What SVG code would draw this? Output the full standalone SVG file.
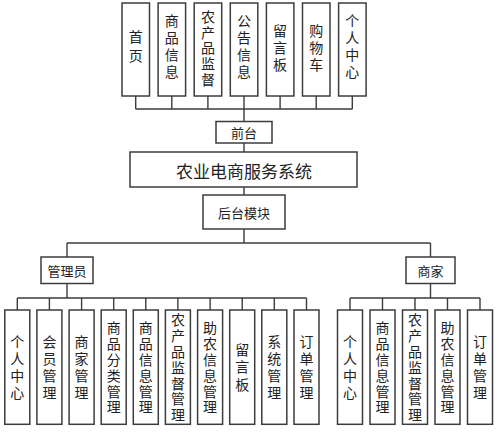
<svg xmlns="http://www.w3.org/2000/svg" width="499" height="436" viewBox="0 0 499 436">
<style>
.b{fill:#fff;stroke:#3c3c3c;stroke-width:1.5}
.t{font-family:"Noto Sans CJK SC","Noto Sans",sans-serif;font-size:14px;fill:#222;text-anchor:middle;dominant-baseline:central}
.v{writing-mode:vertical-rl;text-orientation:upright}
.w{letter-spacing:3px}
.n{letter-spacing:1.8px}
.s{font-size:13px}
.m{font-size:17px}
.c{fill:none;stroke:#3c3c3c;stroke-width:1.4}
</style>
<rect width="499" height="436" fill="#fff"/>
<g id="connectors" class="c">
<path d="M135.7 96V109M171.8 96V109M207.9 96V109M244 96V121.5M280.1 96V109M316.2 96V109M352.3 96V109M135.7 109H352.3"/>
<path d="M244 143V152M244 187V195M244 229V243M67 243H430.5M67 243V257M430.5 243V257"/>
<path d="M67 283.5V298M17.3 298H306.5M17.3 298V310M49.4 298V310M81.6 298V310M113.7 298V310M145.8 298V310M177.9 298V310M210.1 298V310M242.2 298V310M274.3 298V310M306.5 298V310"/>
<path d="M430.5 283.5V298M350 298H480M350 298V310M382.5 298V310M415 298V310M447.5 298V310M480 298V310"/>
</g>
<g id="top-home"><rect class="b" x="122" y="3" width="27.5" height="93"/><text class="t v" style="letter-spacing:5px" x="135.7" y="48.5">首页</text></g>
<g id="top-goods"><rect class="b" x="158.1" y="3" width="27.5" height="93"/><text class="t v w" x="171.8" y="48">商品信息</text></g>
<g id="top-supervise"><rect class="b" x="194.2" y="3" width="27.5" height="93"/><text class="t v n" x="207.9" y="49">农产品监督</text></g>
<g id="top-notice"><rect class="b" x="230.3" y="3" width="27.5" height="93"/><text class="t v w" x="244" y="48">公告信息</text></g>
<g id="top-message"><rect class="b" x="266.4" y="3" width="27.5" height="93"/><text class="t v w" x="280.1" y="49">留言板</text></g>
<g id="top-cart"><rect class="b" x="302.5" y="3" width="27.5" height="93"/><text class="t v w" x="316.2" y="49">购物车</text></g>
<g id="top-center"><rect class="b" x="338.6" y="3" width="27.5" height="93"/><text class="t v w" x="352.3" y="48">个人中心</text></g>
<g id="front"><rect class="b" x="216" y="121.5" width="56" height="21.5"/><text class="t s" x="244" y="132.5">前台</text></g>
<g id="system"><rect class="b" x="130" y="152" width="227" height="35"/><text class="t m" x="244" y="170">农业电商服务系统</text></g>
<g id="backend"><rect class="b" x="203" y="195" width="82" height="34"/><text class="t s" x="244" y="212.3">后台模块</text></g>
<g id="admin"><rect class="b" x="41" y="257" width="52" height="26.5"/><text class="t s" x="67" y="270">管理员</text></g>
<g id="merchant"><rect class="b" x="406" y="257" width="49" height="26.5"/><text class="t s" x="430.5" y="270">商家</text></g>
<g id="a-center"><rect class="b" x="4.8" y="310" width="25" height="114.3"/><text class="t v w" x="17.3" y="368.5">个人中心</text></g>
<g id="a-member"><rect class="b" x="36.9" y="310" width="25" height="114.3"/><text class="t v w" x="49.4" y="368.5">会员管理</text></g>
<g id="a-merchant"><rect class="b" x="69.1" y="310" width="25" height="114.3"/><text class="t v w" x="81.6" y="368.5">商家管理</text></g>
<g id="a-category"><rect class="b" x="101.2" y="310" width="25" height="114.3"/><text class="t v n" x="113.7" y="368.4">商品分类管理</text></g>
<g id="a-goods"><rect class="b" x="133.3" y="310" width="25" height="114.3"/><text class="t v n" x="145.8" y="368.4">商品信息管理</text></g>
<g id="a-supervise"><rect class="b" x="165.4" y="310" width="25" height="114.3"/><text class="t v n" x="177.9" y="368.4">农产品监督管理</text></g>
<g id="a-help"><rect class="b" x="197.6" y="310" width="25" height="114.3"/><text class="t v n" x="210.1" y="368.4">助农信息管理</text></g>
<g id="a-message"><rect class="b" x="229.7" y="310" width="25" height="114.3"/><text class="t v" style="letter-spacing:3.5px" x="242.2" y="368.7">留言板</text></g>
<g id="a-system"><rect class="b" x="261.8" y="310" width="25" height="114.3"/><text class="t v w" x="274.3" y="368.5">系统管理</text></g>
<g id="a-order"><rect class="b" x="294" y="310" width="25" height="114.3"/><text class="t v w" x="306.5" y="368.5">订单管理</text></g>
<g id="m-center"><rect class="b" x="337.5" y="310" width="25" height="114.3"/><text class="t v w" x="350" y="368.5">个人中心</text></g>
<g id="m-goods"><rect class="b" x="370" y="310" width="25" height="114.3"/><text class="t v n" x="382.5" y="368.4">商品信息管理</text></g>
<g id="m-supervise"><rect class="b" x="402.5" y="310" width="25" height="114.3"/><text class="t v n" x="415" y="368.4">农产品监督管理</text></g>
<g id="m-help"><rect class="b" x="435" y="310" width="25" height="114.3"/><text class="t v n" x="447.5" y="368.4">助农信息管理</text></g>
<g id="m-order"><rect class="b" x="467.5" y="310" width="25" height="114.3"/><text class="t v w" x="480" y="368.5">订单管理</text></g>
</svg>
